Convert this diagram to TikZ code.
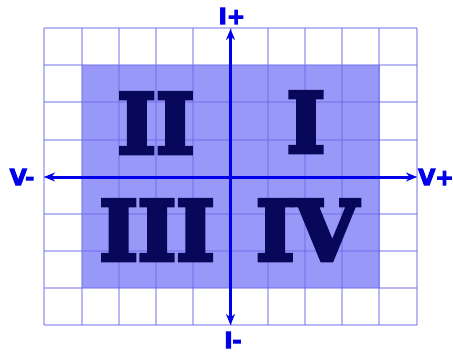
\documentclass[tikz,border=0pt]{standalone}
\usepackage{fontspec}
\newfontfamily\numfont{DejaVu Serif}
\newfontfamily\lblfont{DejaVu Sans}
\usetikzlibrary{arrows.meta}
\definecolor{shadec}{RGB}{152,152,248}
\definecolor{gridc}{RGB}{110,110,235}
\definecolor{axisc}{RGB}{0,0,235}
\definecolor{navy}{RGB}{8,8,90}
\newcommand{\heavy}[1]{\special{pdf:literal direct 2 Tr 4.5 w 0 j}#1\special{pdf:literal direct 0 Tr 1 w}}
\newcommand{\heavylbl}[1]{\special{pdf:literal direct 2 Tr 1 w 0 j}#1\special{pdf:literal direct 0 Tr 1 w}}
\tikzset{
  gridline/.style={draw=gridc, draw opacity=0.48, line width=2pt},
  axisline/.style={draw=axisc, line width=3pt, {Stealth[length=11pt,width=9pt]}-{Stealth[length=11pt,width=9pt]}},
  numeral/.style={text=navy, inner sep=0pt, anchor=base, font=\numfont\bfseries\fontsize{82}{82}\selectfont},
  axlabel/.style={text=axisc, inner sep=0pt, anchor=base, font=\lblfont\bfseries\fontsize{22}{22}\selectfont},
}
\begin{document}
\begin{tikzpicture}[x=1pt,y=-1pt]
\useasboundingbox (0,0) rectangle (453,353);
\fill[white] (0,0) rectangle (453,353);
% shaded region
\fill[shadec] (81.5,65.4) rectangle (379.5,288.0);
% grid
\foreach \i in {0,...,10} {
  \draw[gridline] ({44.3+\i*37.24},28.3) -- ({44.3+\i*37.24},325.0);
}
\foreach \j in {0,...,8} {
  \draw[gridline] (44.3,{28.3+\j*37.09}) -- (416.7,{28.3+\j*37.09});
}
% numerals
\node[numeral] (q2) at (156,153) {\heavy{II}};
\node[numeral] (q1) at (306,152) {\heavy{I}};
\node[numeral] (q3) at (157,260) {\heavy{III}};
\node[numeral] (q4) at (307,260) {\heavy{IV}};
% axes
\coordinate (top) at (230.5,29);
\coordinate (bot) at (230.5,325);
\coordinate (lft) at (44,177);
\coordinate (rgt) at (417,177);
\draw[axisline] (bot) -- (top);
\draw[axisline] (lft) -- (rgt);
% labels
\node[axlabel] (ip) at (232,24) {\heavylbl{I+}};
\node[axlabel] (im) at (233,348) {\heavylbl{I-}};
\node[axlabel] (vm) at (22,185) {\heavylbl{V-}};
\node[axlabel] (vp) at (436,185) {\heavylbl{V+}};
\end{tikzpicture}
\end{document}
